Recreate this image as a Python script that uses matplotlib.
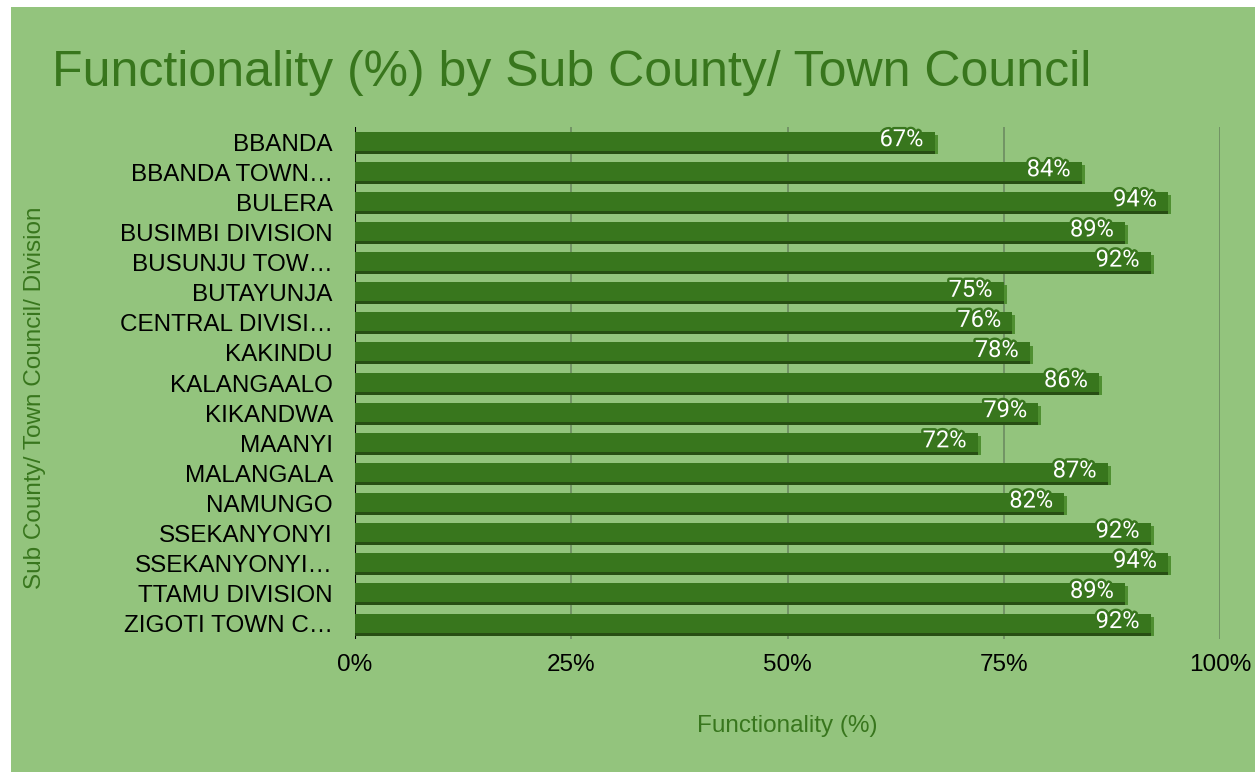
import matplotlib.pyplot as plt
import matplotlib.patheffects as pe
from matplotlib.patches import Rectangle

plt.rcParams['font.family'] = ['Liberation Sans', 'DejaVu Sans']

# Data
areas = ['BBANDA', 'BBANDA TOWN…', 'BULERA', 'BUSIMBI DIVISION', 'BUSUNJU TOW…',
         'BUTAYUNJA', 'CENTRAL DIVISI…', 'KAKINDU', 'KALANGAALO', 'KIKANDWA',
         'MAANYI', 'MALANGALA', 'NAMUNGO', 'SSEKANYONYI', 'SSEKANYONYI…',
         'TTAMU DIVISION', 'ZIGOTI TOWN C…']
functionality = [67, 84, 94, 89, 92, 75, 76, 78, 86, 79, 72, 87, 82, 92, 94, 89, 92]
x_ticks = [0, 25, 50, 75, 100]

bg = '#93c47d'
bar_col = '#38761d'
shadow_col = '#274e13'
edge_col = '#4f8f31'

fig = plt.figure(figsize=(12.56, 7.72), dpi=100)
fig.patch.set_facecolor('white')
fig.add_artist(Rectangle((11 / 1256, 0), 1 - 12 / 1256, 1 - 7 / 772,
                         transform=fig.transFigure, facecolor=bg,
                         edgecolor='none', zorder=-10))

ax = fig.add_axes([355 / 1256, 1 - 639 / 772, 865 / 1256, 512 / 772])
ax.set_facecolor(bg)
ax.patch.set_alpha(0)

y = list(range(len(areas)))
h = 0.63
d = 0.1
# 3D-ish shading: light right edge, dark bottom edge, then the main bar
ax.barh([v + d - 0.03 for v in y], [f + 0.35 for f in functionality], height=h,
        color=edge_col, zorder=2)
ax.barh([v + d - 0.03 for v in y], functionality, height=h, color=shadow_col, zorder=3)
ax.barh([v - 0.03 for v in y], functionality, height=h, color=bar_col, zorder=4)

for yi, f in zip(y, functionality):
    ax.annotate(f'{f}%', (f, yi - 0.08), xytext=(-8, 0), textcoords='offset points',
                ha='right', va='center', color='white', fontsize=17, zorder=5,
                family=['Roboto', 'DejaVu Sans'],
                path_effects=[pe.withStroke(linewidth=3.5, foreground=bar_col)])

ax.set_xlim(0, 100)
ax.set_ylim(len(areas) - 0.5, -0.5)
ax.set_xticks(x_ticks)
ax.set_xticklabels([f'{t}%' for t in x_ticks])
ax.set_yticks(y)
ax.set_yticklabels(areas)
ax.tick_params(axis='both', length=0, labelsize=17.5, colors='black')
ax.tick_params(axis='x', pad=11)
ax.tick_params(axis='y', pad=16)
for t in x_ticks[1:]:
    ax.axvline(t, color='#6f8f63', lw=1.3, zorder=1)
ax.axvline(0, color='black', lw=1.5, zorder=1)
for s in ax.spines.values():
    s.set_visible(False)

ax.set_xlabel('Functionality (%)', color=bar_col, fontsize=17.5, labelpad=28)
fig.text(35 / 1256, 1 - 398 / 772, 'Sub County/ Town Council/ Division', rotation=90,
         ha='center', va='center', color=bar_col, fontsize=17.5)
fig.text(52 / 1256, 1 - 73 / 772, 'Functionality (%) by Sub County/ Town Council',
         ha='left', va='center', color=bar_col, fontsize=36)

fig.savefig('out.png', dpi=100, facecolor=fig.get_facecolor())
